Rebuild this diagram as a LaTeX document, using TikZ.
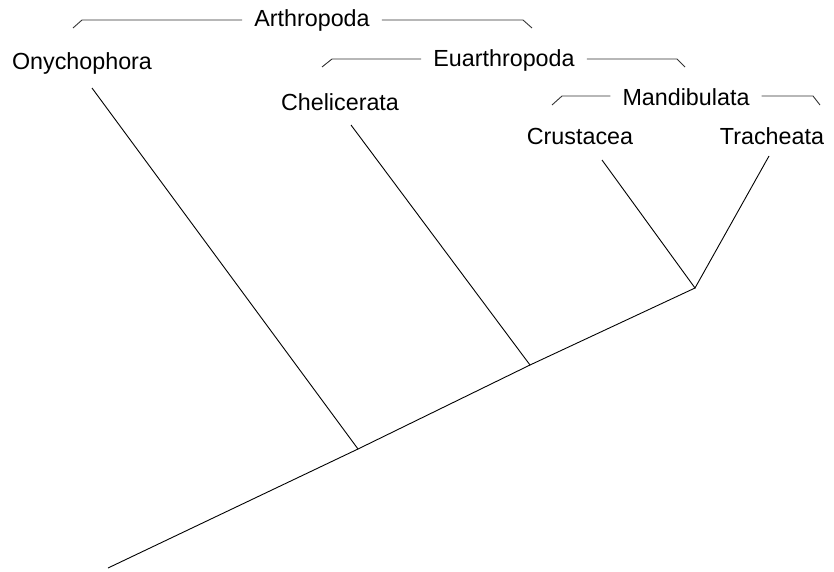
\documentclass[tikz,border=0pt]{standalone}
\usepackage{fontspec}
\setmainfont{Liberation Sans}
\begin{document}
\begin{tikzpicture}[x=1pt,y=-1pt,
  lbl/.style={inner sep=0pt,font=\fontsize{23.3}{27}\selectfont},
  ln/.style={line width=0.9pt,black},
  brk/.style={line width=0.9pt,black!80}]
\useasboundingbox (0,0) rectangle (834,571);
% labels
\node[lbl] (ony) at (82,63) {Onychophora};
\node[lbl] (che) at (340,102) {Chelicerata};
\node[lbl] (cru) at (580,136) {Crustacea};
\node[lbl] (tra) at (772,136) {Tracheata};
\node[lbl] (art) at (312,20) {Arthropoda};
\node[lbl] (eua) at (504,60) {Euarthropoda};
\node[lbl] (man) at (686,97) {Mandibulata};
% tree points
\coordinate (root) at (108,568);
\coordinate (n1) at (358,449);
\coordinate (n2) at (530,365);
\coordinate (n3) at (695,288);
\coordinate (t1) at (92,88);
\coordinate (t2) at (351,125);
\coordinate (t3) at (602,160);
\coordinate (t4) at (769,156);
\draw[ln] (root) -- (n1) -- (n2) -- (n3);
\draw[ln] (t1) -- (n1);
\draw[ln] (t2) -- (n2);
\draw[ln] (t3) -- (n3) -- (t4);
% brackets
\draw[brk] (73,28) -- (82,20) -- ([xshift=-12pt]art.west |- 0,20);
\draw[brk] ([xshift=12pt]art.east |- 0,20) -- (523,20) -- (532,28);
\draw[brk] (322,67) -- (332,59) -- ([xshift=-12pt]eua.west |- 0,59);
\draw[brk] ([xshift=12pt]eua.east |- 0,59) -- (677,59) -- (685,67);
\draw[brk] (552,105) -- (562,96) -- ([xshift=-12pt]man.west |- 0,96);
\draw[brk] ([xshift=12pt]man.east |- 0,96) -- (813,96) -- (820,105);
\end{tikzpicture}
\end{document}
